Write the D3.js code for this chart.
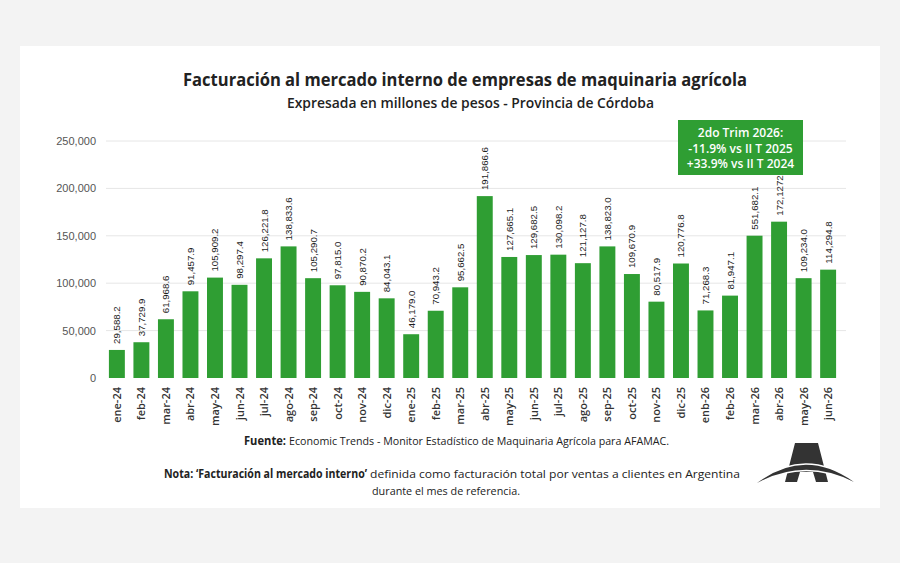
<!DOCTYPE html>
<html>
<head>
<meta charset="utf-8">
<script src="https://cdn.jsdelivr.net/npm/d3@7"></script>
<style>
  body { margin: 0; background: #f3f3f3; }
  svg { display: block; }
</style>
</head>
<body>
<svg width="900" height="563"></svg>
<script>
// months shown on the x axis
var months = ["ene-24","feb-24","mar-24","abr-24","may-24","jun-24","jul-24","ago-24","sep-24","oct-24","nov-24","dic-24",
              "ene-25","feb-25","mar-25","abr-25","may-25","jun-25","jul-25","ago-25","sep-25","oct-25","nov-25","dic-25",
              "enb-26","feb-26","mar-26","abr-26","may-26","jun-26"];
// bar heights (millones de pesos)
var values = [29588.2, 37729.9, 61968.6, 91457.9, 105909.2, 98297.4, 126221.8, 138833.6, 105290.7, 97815.0, 90870.2, 84043.1,
              46179.0, 70943.2, 95662.5, 191866.6, 127665.1, 129682.5, 130098.2, 121127.8, 138823.0, 109670.9, 80517.9, 120776.8,
              71268.3, 86900, 150100, 164900, 105300, 114294.8];
// labels as printed above each bar
var labels = ["29,588.2","37,729.9","61,968.6","91,457.9","105,909.2","98,297.4","126,221.8","138,833.6","105,290.7","97,815.0","90,870.2","84,043.1",
              "46,179.0","70,943.2","95,662.5","191,866.6","127,665.1","129,682.5","130,098.2","121,127.8","138,823.0","109,670.9","80,517.9","120,776.8",
              "71,268.3","81,947.1","551,682.1","172,1272","109,234.0","114,294.8"];
var yTicks = [0, 50000, 100000, 150000, 200000, 250000];
var boxLines = ["2do Trim 2026:", "-11.9% vs II T 2025", "+33.9% vs II T 2024"];

var green = "#2f9e33";
var svg = d3.select("svg");

// white card
svg.append("rect").attr("x", 20).attr("y", 46).attr("width", 860).attr("height", 462).attr("fill", "#fff");

// titles
svg.append("text").attr("x", 183).attr("y", 86)
  .attr("textLength", 564).attr("lengthAdjust", "spacingAndGlyphs")
  .style("font-family", "Open Sans").style("font-weight", 700).style("font-size", "18px").attr("fill", "#222")
  .text("Facturación al mercado interno de empresas de maquinaria agrícola");
svg.append("text").attr("x", 287).attr("y", 108)
  .attr("textLength", 367).attr("lengthAdjust", "spacingAndGlyphs")
  .style("font-family", "Open Sans").style("font-weight", 600).style("font-size", "13.5px").attr("fill", "#222")
  .text("Expresada en millones de pesos - Provincia de Córdoba");

// scales
var x = d3.scaleBand().domain(months).range([104, 841]).paddingInner(0.35).paddingOuter(0.2);
var y = d3.scaleLinear().domain([0, 250000]).range([378, 141]);

// gridlines + y labels
svg.append("g").selectAll("line").data(yTicks.slice(1)).enter().append("line")
  .attr("x1", 106).attr("x2", 846)
  .attr("y1", function(d) { return y(d); }).attr("y2", function(d) { return y(d); })
  .attr("stroke", "#e6e6e6").attr("stroke-width", 1);

svg.append("g").selectAll("text").data(yTicks).enter().append("text")
  .attr("x", 96).attr("y", function(d) { return y(d) + 4; })
  .attr("text-anchor", "end")
  .style("font-family", "Liberation Sans").style("font-size", "11px").attr("fill", "#555")
  .text(d3.format(","));

// bars
svg.append("g").selectAll("rect").data(values).enter().append("rect")
  .attr("x", function(d, i) { return x(months[i]); })
  .attr("y", function(d) { return y(d); })
  .attr("width", x.bandwidth())
  .attr("height", function(d) { return y(0) - y(d); })
  .attr("fill", green);

// value labels
svg.append("g").selectAll("text").data(values).enter().append("text")
  .attr("transform", function(d, i) {
    return "translate(" + (x(months[i]) + x.bandwidth() / 2 + 3.5) + "," + (y(d) - 6) + ") rotate(-90)";
  })
  .style("font-family", "Liberation Sans").style("font-size", "9.7px").attr("fill", "#1e1e1e")
  .text(function(d, i) { return labels[i]; });

// month labels
svg.append("g").selectAll("text").data(months).enter().append("text")
  .attr("transform", function(d) {
    return "translate(" + (x(d) + x.bandwidth() / 2 + 4) + ",387) rotate(-90)";
  })
  .attr("text-anchor", "end")
  .style("font-family", "Open Sans").style("font-weight", 600).style("font-size", "11px").attr("fill", "#333")
  .text(function(d) { return d; });

// annotation box
svg.append("rect").attr("x", 678).attr("y", 120).attr("width", 125).attr("height", 55).attr("fill", green);
svg.append("g").selectAll("text").data(boxLines).enter().append("text")
  .attr("x", 740.5).attr("y", function(d, i) { return 137 + i * 15.5; })
  .attr("text-anchor", "middle")
  .style("font-family", "Open Sans").style("font-weight", 600).style("font-size", "12px").attr("fill", "#fff")
  .text(function(d) { return d; });

// footer text, each piece fitted to the width it has in the picture
function piece(txt, x0, y0, w, weight) {
  svg.append("text").attr("x", x0).attr("y", y0)
    .attr("textLength", w).attr("lengthAdjust", "spacingAndGlyphs")
    .style("font-family", "Open Sans").style("font-weight", weight).style("font-size", "11.5px").attr("fill", "#222")
    .text(txt);
}
piece("Fuente:", 244, 445, 42, 700);
piece("Economic Trends - Monitor Estadístico de Maquinaria Agrícola para AFAMAC.", 289, 445, 380, 400);
piece("Nota: \u2018Facturación al mercado interno\u2019", 164, 478, 203, 700);
piece("definida como facturación total por ventas a clientes en Argentina", 370, 478, 370, 400);
piece("durante el mes de referencia.", 372, 495, 148, 400);

// logo
var logo = svg.append("g").attr("fill", "#333");
logo.append("path").attr("d", "M795,443 L818,443 L828,482 L816,482 L813,472 L800,472 L797,482 L785,482 Z");
logo.append("path").attr("d", "M757,483 Q805,447 854,482 Q805,457 757,483 Z")
  .attr("stroke", "#fff").attr("stroke-width", 3).attr("paint-order", "stroke");
</script>
</body>
</html>
